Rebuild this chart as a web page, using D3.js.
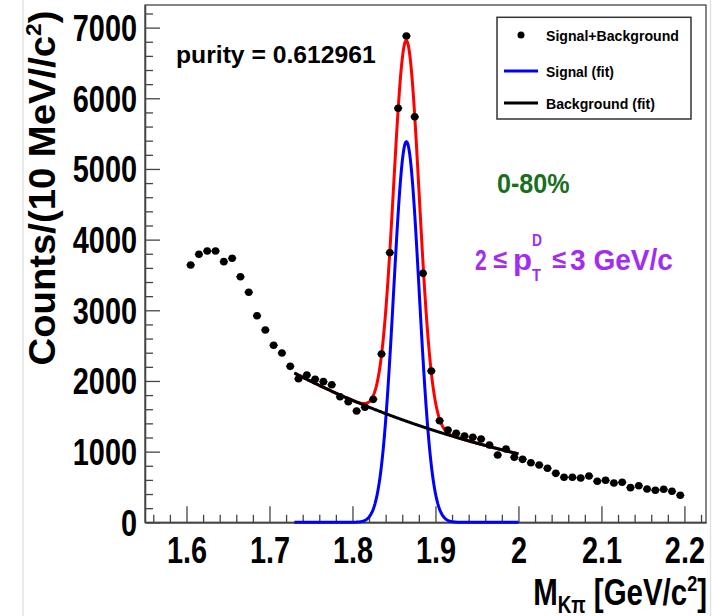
<!DOCTYPE html>
<html><head><meta charset="utf-8">
<script src="https://cdn.jsdelivr.net/npm/d3@7"></script>
<style>
body{margin:0;background:#fff}
svg{display:block}
text{font-family:"Liberation Sans",Arial,Helvetica,sans-serif;font-weight:bold}
</style>
</head><body>
<svg id="c" width="713" height="616"></svg>
<script>
// ---------- data ----------
const massBins = [1.605,1.615,1.625,1.635,1.645,1.655,1.665,1.675,1.685,1.695,
  1.705,1.715,1.725,1.735,1.745,1.755,1.765,1.775,1.785,1.795,
  1.805,1.815,1.825,1.835,1.845,1.855,1.865,1.875,1.885,1.895,
  1.905,1.915,1.925,1.935,1.945,1.955,1.965,1.975,1.985,1.995,
  2.005,2.015,2.025,2.035,2.045,2.055,2.065,2.075,2.085,2.095,
  2.105,2.115,2.125,2.135,2.145,2.155,2.165,2.175,2.185,2.195];
const counts = [3641,3792,3839,3839,3688,3736,3475,3255,2923,2721,
  2505,2396,2207,2032,2084,2024,1990,1947,1777,1707,
  1575,1627,1740,2382,3815,5858,6881,5739,3523,2141,
  1438,1306,1259,1221,1203,1179,1094,952,1037,920,
  891,843,811,764,693,637,637,627,655,580,
  594,556,566,490,518,471,453,467,439,382];
const binHalfWidth = 0.005;
const xTickValues = [1.6,1.7,1.8,1.9,2.0,2.1,2.2];
const xTickLabels = ["1.6","1.7","1.8","1.9","2","2.1","2.2"];
const yTickValues = [0,1000,2000,3000,4000,5000,6000,7000];
const yTickLabels = ["0","1000","2000","3000","4000","5000","6000","7000"];
const xDomain = [1.55, 2.226];
const yDomain = [0, 7320];
const fitRange = [1.73, 2.0];
const signalFit = [5386, 1.865, 0.0154];      // amplitude, mean, sigma
const backgroundFit = [2113, 1.73, -2.89];     // value at x0, x0, exp slope
const legendLabels = ["Signal+Background","Signal (fit)","Background (fit)"];

// ---------- layout ----------
const svg = d3.select("#c");
const L=145, R=706, T=5, B=522.3;
const x = d3.scaleLinear().domain(xDomain).range([L,R]);
const y = d3.scaleLinear().domain(yDomain).range([B,T]);
const frameCol = "#444";

// page edge lines
svg.append("line").attr("x1",23).attr("x2",23).attr("y1",0).attr("y2",616).attr("stroke","#e2e2e2").attr("stroke-width",1.5);
svg.append("line").attr("x1",710.5).attr("x2",710.5).attr("y1",0).attr("y2",616).attr("stroke","#e2e2e2").attr("stroke-width",1.5);

// fit text helper
function fitText(g, w){
  const t = g.select("text");
  const bw = t.node().getBBox().width;
  const tr = g.attr("data-tr");
  g.attr("transform", tr + ` scale(${w/bw},1)`);
}
function addText(parent, px, py, anchor, w, build, extra){
  const g = parent.append("g").attr("data-tr", `translate(${px},${py})` + (extra||""));
  const t = g.append("text").attr("text-anchor", anchor);
  build(t);
  fitText(g, w);
  return g;
}

// ---------- axes ----------
const sx = 0.78;
const xAxis = d3.axisBottom(x).tickValues(xTickValues).tickSize(-16).tickSizeOuter(0)
  .tickFormat((d,i)=>xTickLabels[i]);
const gx = svg.append("g").attr("transform",`translate(0,${B})`).call(xAxis);
gx.selectAll("text").attr("y",0).attr("dy",0).attr("transform",`translate(0,${563-B}) scale(${sx},1)`)
  .attr("font-size",37).attr("fill","#000").attr("font-family",null);
const minorX = d3.range(78,112).map(i=>i/50).filter(v=>!xTickValues.some(t=>Math.abs(t-v)<1e-6));
svg.append("g").attr("transform",`translate(0,${B})`).call(d3.axisBottom(x).tickValues(minorX).tickSize(-7.5).tickSizeOuter(0).tickFormat(""));

const yAxis = d3.axisLeft(y).tickValues(yTickValues).tickSize(-15).tickSizeOuter(0)
  .tickFormat((d,i)=>yTickLabels[i]);
const gy = svg.append("g").attr("transform",`translate(${L},0)`).call(yAxis);
gy.selectAll("text").attr("x",0).attr("dy",0).attr("y",0).attr("transform",`translate(-8,13) scale(${sx},1)`)
  .attr("font-size",37).attr("fill","#000").attr("font-family",null);
const minorY = d3.range(1,37).map(i=>i*200).filter(v=>v%1000!==0);
svg.append("g").attr("transform",`translate(${L},0)`).call(d3.axisLeft(y).tickValues(minorY).tickSize(-8).tickSizeOuter(0).tickFormat(""));

svg.selectAll(".tick line").attr("stroke",frameCol).attr("stroke-width",1.3);
svg.selectAll(".domain").attr("stroke",frameCol).attr("stroke-width",1.3);
svg.append("rect").attr("x",L).attr("y",T).attr("width",R-L).attr("height",B-T)
  .attr("fill","none").attr("stroke",frameCol).attr("stroke-width",1.3);

// ---------- fit curves ----------
const sig = v => signalFit[0]*Math.exp(-0.5*Math.pow((v-signalFit[1])/signalFit[2],2));
const bkg = v => backgroundFit[0]*Math.exp(backgroundFit[2]*(v-backgroundFit[1]));
const samples = d3.range(0,401).map(i=>fitRange[0]+i*(fitRange[1]-fitRange[0])/400);
const line = d3.line().x(d=>x(d[0])).y(d=>y(d[1]));
svg.append("path").attr("d",line(samples.map(v=>[v,sig(v)+bkg(v)]))).attr("fill","none").attr("stroke","#ff0000").attr("stroke-width",3);
svg.append("path").attr("d",line(samples.map(v=>[v,sig(v)]))).attr("fill","none").attr("stroke","#0000ff").attr("stroke-width",3);
svg.append("path").attr("d",line(samples.map(v=>[v,bkg(v)]))).attr("fill","none").attr("stroke","#000").attr("stroke-width",3);

// ---------- data points ----------
const pts = svg.append("g");
massBins.forEach((m,i)=>{
  pts.append("line").attr("x1",x(m-binHalfWidth)).attr("x2",x(m+binHalfWidth))
    .attr("y1",y(counts[i])).attr("y2",y(counts[i])).attr("stroke","#000").attr("stroke-width",1.3);
  pts.append("circle").attr("cx",x(m)).attr("cy",y(counts[i])).attr("r",3.8).attr("fill","#000");
});

// ---------- legend ----------
svg.append("rect").attr("x",497).attr("y",17.3).attr("width",194).attr("height",101.7)
  .attr("fill","#fff").attr("stroke","#333").attr("stroke-width",1.5);
svg.append("circle").attr("cx",521).attr("cy",35).attr("r",3.5).attr("fill","#000");
svg.append("line").attr("x1",504).attr("x2",538).attr("y1",71).attr("y2",71).attr("stroke","#0000ff").attr("stroke-width",3);
svg.append("line").attr("x1",504).attr("x2",538).attr("y1",103).attr("y2",103).attr("stroke","#000").attr("stroke-width",3);
const legW=[133,68,109], legY=[41,76.5,108.8];
legendLabels.forEach((s,i)=>{
  addText(svg,546,legY[i],"start",legW[i],t=>t.attr("font-size",15.5).text(s));
});

// ---------- annotations ----------
addText(svg,176,62.5,"start",200,t=>t.attr("font-size",23).text("purity = 0.612961"));
addText(svg,497,193.3,"start",72.7,t=>t.attr("font-size",28).attr("fill","#18701c").text("0-80%"));
const purple="#a22cf0";
addText(svg,475,270,"start",11.7,t=>t.attr("font-size",30).attr("fill",purple).text("2"));
addText(svg,493,268,"start",14,t=>t.attr("font-size",26).attr("font-weight","normal").attr("fill",purple).text("≤"));
addText(svg,513,270,"start",19,t=>t.attr("font-size",30).attr("fill",purple).text("p"));
addText(svg,532,246,"start",10,t=>t.attr("font-size",17).attr("fill",purple).text("D"));
addText(svg,532,280.5,"start",9.5,t=>t.attr("font-size",17).attr("fill",purple).text("T"));
addText(svg,552,268,"start",14,t=>t.attr("font-size",26).attr("font-weight","normal").attr("fill",purple).text("≤"));
addText(svg,570,270,"start",103,t=>t.attr("font-size",30).attr("fill",purple).text("3 GeV/c"));

// axis titles
addText(svg,707,605,"end",174,t=>{
  t.attr("font-size",36);
  t.append("tspan").text("M");
  t.append("tspan").attr("font-size",23).attr("dy",8).text("Kπ");
  t.append("tspan").attr("dy",-8).text(" [GeV/c");
  t.append("tspan").attr("font-size",22).attr("dy",-14).text("2");
  t.append("tspan").attr("dy",14).text("]");
});
addText(svg,55,188," middle".trim(),355,t=>{
  t.attr("font-size",37);
  t.append("tspan").text("Counts/(10 MeV//c");
  t.append("tspan").attr("font-size",22).attr("dy",-14).text("2");
  t.append("tspan").attr("dy",14).text(")");
}," rotate(-90)");
</script>
</body></html>
